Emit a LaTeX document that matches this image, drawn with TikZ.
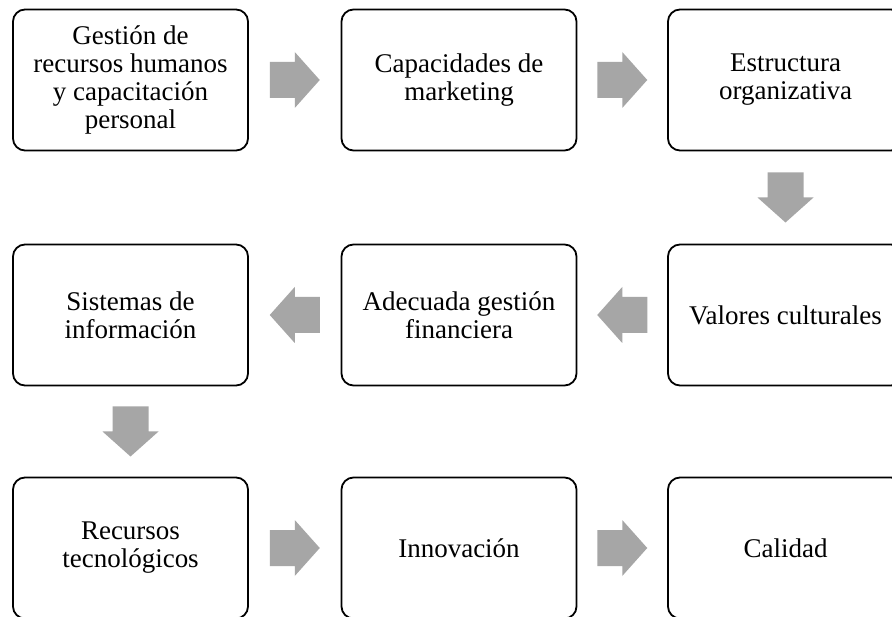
\documentclass[tikz,border=0pt]{standalone}
\usepackage{fontspec}
\setmainfont{Liberation Serif}
\usetikzlibrary{calc}
\definecolor{arrowgray}{HTML}{A6A6A6}
\tikzset{
  stepbox/.style={draw=black, line width=1.8pt, rounded corners=12pt, fill=white,
    minimum width=235pt, minimum height=141pt, inner sep=0pt, align=center,
    font=\fontsize{27}{28}\selectfont},
  fatarrow/.pic={\fill[arrowgray] (-25,-18) -- (0,-18) -- (0,-28) -- (25,0) -- (0,28) -- (0,18) -- (-25,18) -- cycle;}
}
\begin{document}
\begin{tikzpicture}[x=1pt,y=1pt]
\useasboundingbox (0,0) rectangle (892,-617);
\clip (0,0) rectangle (892,-617);
\fill[white] (0,0) rectangle (892,-617);
\node[stepbox] (n1) at (130.5,-80) {Gestión de\\recursos humanos\\y capacitación\\personal};
\node[stepbox] (n2) at (459,-80) {Capacidades de\\marketing};
\node[stepbox] (n3) at (785.5,-80) {Estructura\\organizativa};
\node[stepbox] (n4) at (785.5,-315) {Valores culturales};
\node[stepbox] (n5) at (459,-315) {Adecuada gestión\\financiera};
\node[stepbox] (n6) at (130.5,-315) {Sistemas de\\información};
\node[stepbox] (n7) at (130.5,-548) {Recursos\\tecnológicos};
\node[stepbox] (n8) at (459,-548) {Innovación};
\node[stepbox] (n9) at (785.5,-548) {Calidad};
\pic at ($(n1.east)!0.5!(n2.west)$) {fatarrow};
\pic at ($(n2.east)!0.5!(n3.west)$) {fatarrow};
\pic[rotate=-90] at ($(n3.south)!0.5!(n4.north)$) {fatarrow};
\pic[rotate=180] at ($(n4.west)!0.5!(n5.east)$) {fatarrow};
\pic[rotate=180] at ($(n5.west)!0.5!(n6.east)$) {fatarrow};
\pic[rotate=-90] at ($(n6.south)!0.5!(n7.north)$) {fatarrow};
\pic at ($(n7.east)!0.5!(n8.west)$) {fatarrow};
\pic at ($(n8.east)!0.5!(n9.west)$) {fatarrow};
\end{tikzpicture}
\end{document}
